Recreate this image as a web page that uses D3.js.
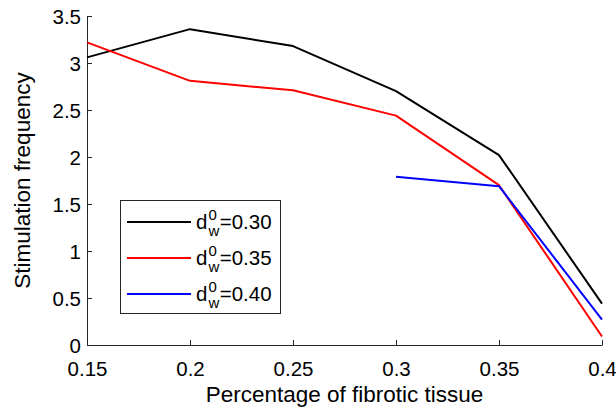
<!DOCTYPE html>
<html>
<head>
<meta charset="utf-8">
<script src="https://cdn.jsdelivr.net/npm/d3@7"></script>
<style>
  body { margin: 0; background: #fff; }
  svg { display: block; font-family: "Liberation Sans", Arial, Helvetica, sans-serif; }
</style>
</head>
<body>
<div class="chart"></div>
<script>
// values
const fibrotic = [0.15, 0.2, 0.25, 0.3, 0.35, 0.4]
const freq030 = [3.06, 3.36, 3.18, 2.70, 2.02, 0.44]
const freq035 = [3.22, 2.81, 2.71, 2.44, 1.70, 0.09]
const fibrotic040 = [0.3, 0.35, 0.4]
const freq040 = [1.79, 1.69, 0.27]
const xTicks = [0.15, 0.2, 0.25, 0.3, 0.35, 0.4]
const yTicks = [0, 0.5, 1, 1.5, 2, 2.5, 3, 3.5]
const legendValues = ["0.30", "0.35", "0.40"]

const width = 616, height = 408
const plotLeft = 87, plotRight = 602, plotTop = 16, plotBottom = 345

let svg = d3.select(".chart")
  .append("svg")
  .attr("width", width)
  .attr("height", height)

let x = d3.scaleLinear().domain([0.15, 0.4]).range([plotLeft, plotRight])
let y = d3.scaleLinear().domain([0, 3.5]).range([plotBottom, plotTop])

// axes, ticks pointing inward like matlab
let xAxis = svg.append("g")
  .attr("transform", "translate(0," + plotBottom + ")")
  .call(d3.axisBottom(x).tickValues(xTicks).tickSize(-5).tickSizeOuter(0)
    .tickFormat(d => String(+d.toFixed(2))))
xAxis.select(".domain").attr("stroke", "#262626")
xAxis.selectAll(".tick line").attr("stroke", "#262626")
xAxis.selectAll(".tick text")
  .attr("y", 31).attr("dy", null)
  .attr("font-size", 20.5).attr("fill", "#000")
  .style("font-family", "inherit")

let yAxis = svg.append("g")
  .attr("transform", "translate(" + plotLeft + ",0)")
  .call(d3.axisLeft(y).tickValues(yTicks).tickSize(-5).tickSizeOuter(0)
    .tickFormat(d => String(d)))
yAxis.select(".domain").attr("stroke", "#262626")
yAxis.selectAll(".tick line").attr("stroke", "#262626")
yAxis.selectAll(".tick text")
  .attr("x", -6).attr("dy", "0.36em")
  .attr("font-size", 20.5).attr("fill", "#000")
  .style("font-family", "inherit")

svg.append("text")
  .attr("x", (plotLeft + plotRight) / 2)
  .attr("y", 402)
  .attr("text-anchor", "middle")
  .attr("font-size", 22.5)
  .text("Percentage of fibrotic tissue")

svg.append("text")
  .attr("transform", "translate(30," + (plotTop + plotBottom) / 2 + ") rotate(-90)")
  .attr("text-anchor", "middle")
  .attr("font-size", 22.5)
  .text("Stimulation frequency")

let line = d3.line()
  .x(d => x(d[0]))
  .y(d => y(d[1]))

let series = [
  { color: "#000000", pts: d3.zip(fibrotic, freq030) },
  { color: "#ff0000", pts: d3.zip(fibrotic, freq035) },
  { color: "#0000ff", pts: d3.zip(fibrotic040, freq040) }
]

svg.selectAll("path.series")
  .data(series)
  .enter()
  .append("path")
  .attr("class", "series")
  .attr("d", d => line(d.pts))
  .attr("fill", "none")
  .attr("stroke", d => d.color)
  .attr("stroke-width", 2)
  .attr("stroke-linejoin", "round")

// legend
let legend = svg.append("g")
legend.append("rect")
  .attr("x", 120.5).attr("y", 200.5)
  .attr("width", 160).attr("height", 113)
  .attr("fill", "#fff")
  .attr("stroke", "#262626")
  .attr("stroke-width", 1)

let rows = legend.selectAll("g.row")
  .data(series)
  .enter()
  .append("g")
  .attr("class", "row")
  .attr("transform", (d, i) => "translate(0," + (222 + i * 36) + ")")

rows.append("line")
  .attr("x1", 127).attr("x2", 191)
  .attr("stroke", d => d.color)
  .attr("stroke-width", 2)

rows.each(function(d, i) {
  let g = d3.select(this)
  let t = g.append("text").attr("x", 196).attr("y", 7).attr("font-size", 20.5).text("d")
  let w = t.node().getComputedTextLength()
  g.append("text").attr("x", 196 + w + 1).attr("y", -2.5).attr("font-size", 15).text("0")
  let sub = g.append("text").attr("x", 196 + w + 1).attr("y", 13.5).attr("font-size", 15).text("w")
  let sw = sub.node().getComputedTextLength()
  g.append("text").attr("x", 196 + w + 1 + sw + 0.5).attr("y", 7).attr("font-size", 20.5)
    .text("=" + legendValues[i])
})
</script>
</body>
</html>
